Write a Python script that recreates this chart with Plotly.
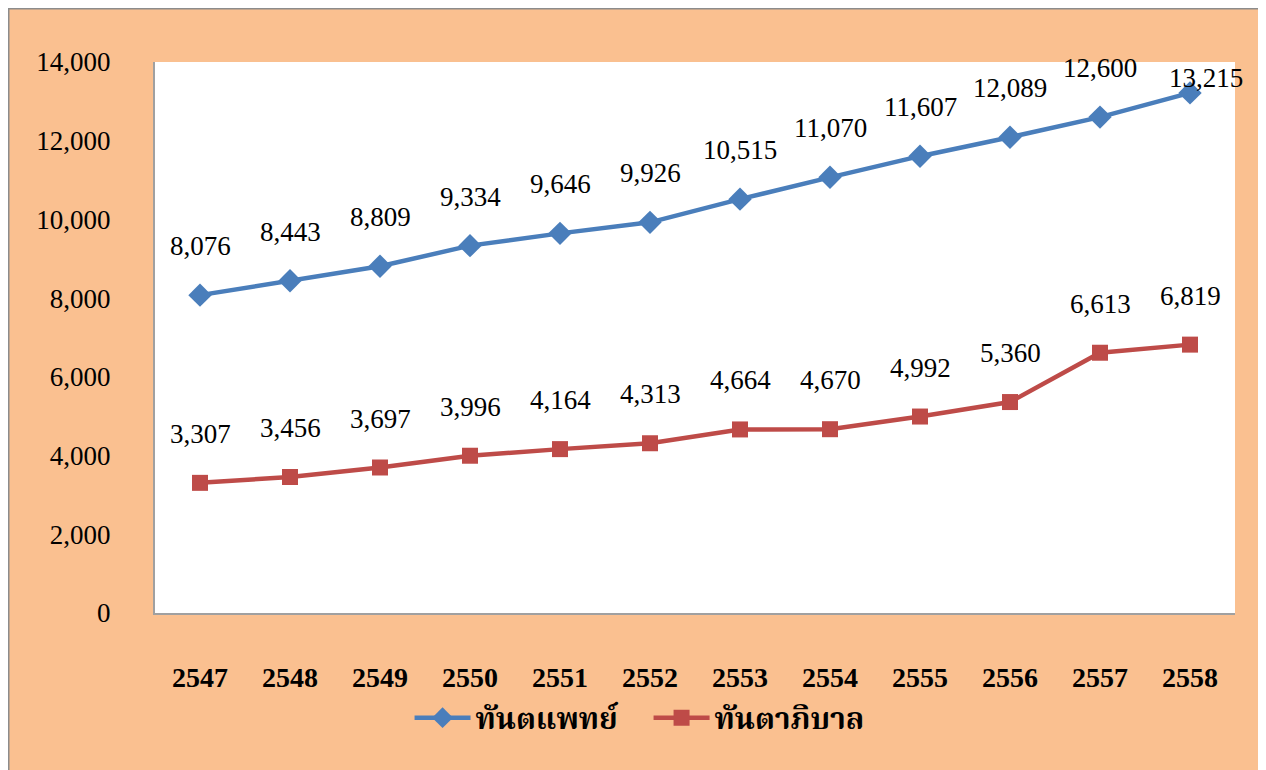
import plotly.graph_objects as go

years = ["2547", "2548", "2549", "2550", "2551", "2552", "2553", "2554", "2555", "2556", "2557", "2558"]
dentists = [8076, 8443, 8809, 9334, 9646, 9926, 10515, 11070, 11607, 12089, 12600, 13215]
dental_nurses = [3307, 3456, 3697, 3996, 4164, 4313, 4664, 4670, 4992, 5360, 6613, 6819]
series_names = ["ทันตแพทย์", "ทันตาภิบาล"]

BLUE = "#4A7EBB"
RED = "#BE4B48"
PEACH = "#FAC090"
SERIF = "Liberation Serif, Times New Roman, serif"

W, H = 1258, 762
L, T = 147, 54
PW, PH = 1080, 551
YMAX = 14000

fig = go.Figure()
fig.add_trace(go.Scatter(x=years, y=dentists, name=series_names[0], mode="lines+markers",
                         line=dict(color=BLUE, width=4.5),
                         marker=dict(symbol="diamond", size=18, color=BLUE)))
fig.add_trace(go.Scatter(x=years, y=dental_nurses, name=series_names[1], mode="lines+markers",
                         line=dict(color=RED, width=4.5),
                         marker=dict(symbol="square", size=16, color=RED)))

# data labels above points; a label that would leave the chart is pulled down beside its point
LABEL_GAP = 49
TOO_HIGH = 50      # label centre above this (figure px) is out of bounds
CLAMPED_Y = 70     # where such a label is placed instead
annotations = []
for vals in (dentists, dental_nurses):
    for i, v in enumerate(vals):
        point_px = T + PH * (1 - v / YMAX)
        if point_px - LABEL_GAP < TOO_HIGH:
            shift, xshift = point_px - CLAMPED_Y, 16
        else:
            shift, xshift = LABEL_GAP, 0
        annotations.append(dict(x=i, y=v, xref="x", yref="y", text=f"{v:,}", showarrow=False,
                                yshift=shift, xshift=xshift,
                                font=dict(family=SERIF, size=27, color="black")))

shapes = [
    dict(type="line", xref="paper", yref="paper", x0=-L / PW, x1=-L / PW, y0=-2, y1=(PH + T) / PH,
         line=dict(color="#8C8C8C", width=3)),
    dict(type="line", xref="paper", yref="paper", x0=-L / PW, x1=2, y0=(PH + T) / PH, y1=(PH + T) / PH,
         line=dict(color="#8C8C8C", width=3)),
]

fig.update_layout(
    width=W, height=H,
    margin=dict(l=L, r=W - L - PW, t=T, b=H - T - PH, autoexpand=False),
    paper_bgcolor=PEACH, plot_bgcolor="white",
    showlegend=True,
    legend=dict(orientation="h", x=0.457, xanchor="center", y=-0.19, yanchor="middle",
                font=dict(family="Noto Serif Thai, Noto Sans Thai, Tahoma, sans-serif", size=30,
                          color="black", weight="bold"),
                itemwidth=56, entrywidth=168, entrywidthmode="pixels",
                bgcolor="rgba(0,0,0,0)", tracegroupgap=0),
    annotations=annotations,
    shapes=shapes,
    xaxis=dict(type="category", range=[-0.5, 11.5], showgrid=False, zeroline=False,
               showline=True, linecolor="#A0A0A0", linewidth=2, ticks="", ticklabelstandoff=38,
               tickfont=dict(family=SERIF, size=28, color="black", weight="bold")),
    yaxis=dict(range=[0, YMAX], dtick=2000, tickformat=",d", showgrid=False, zeroline=False,
               showline=True, linecolor="#A0A0A0", linewidth=2, ticks="", ticklabelstandoff=37,
               tickfont=dict(family=SERIF, size=27, color="black")),
)

fig.write_html("out.html")
